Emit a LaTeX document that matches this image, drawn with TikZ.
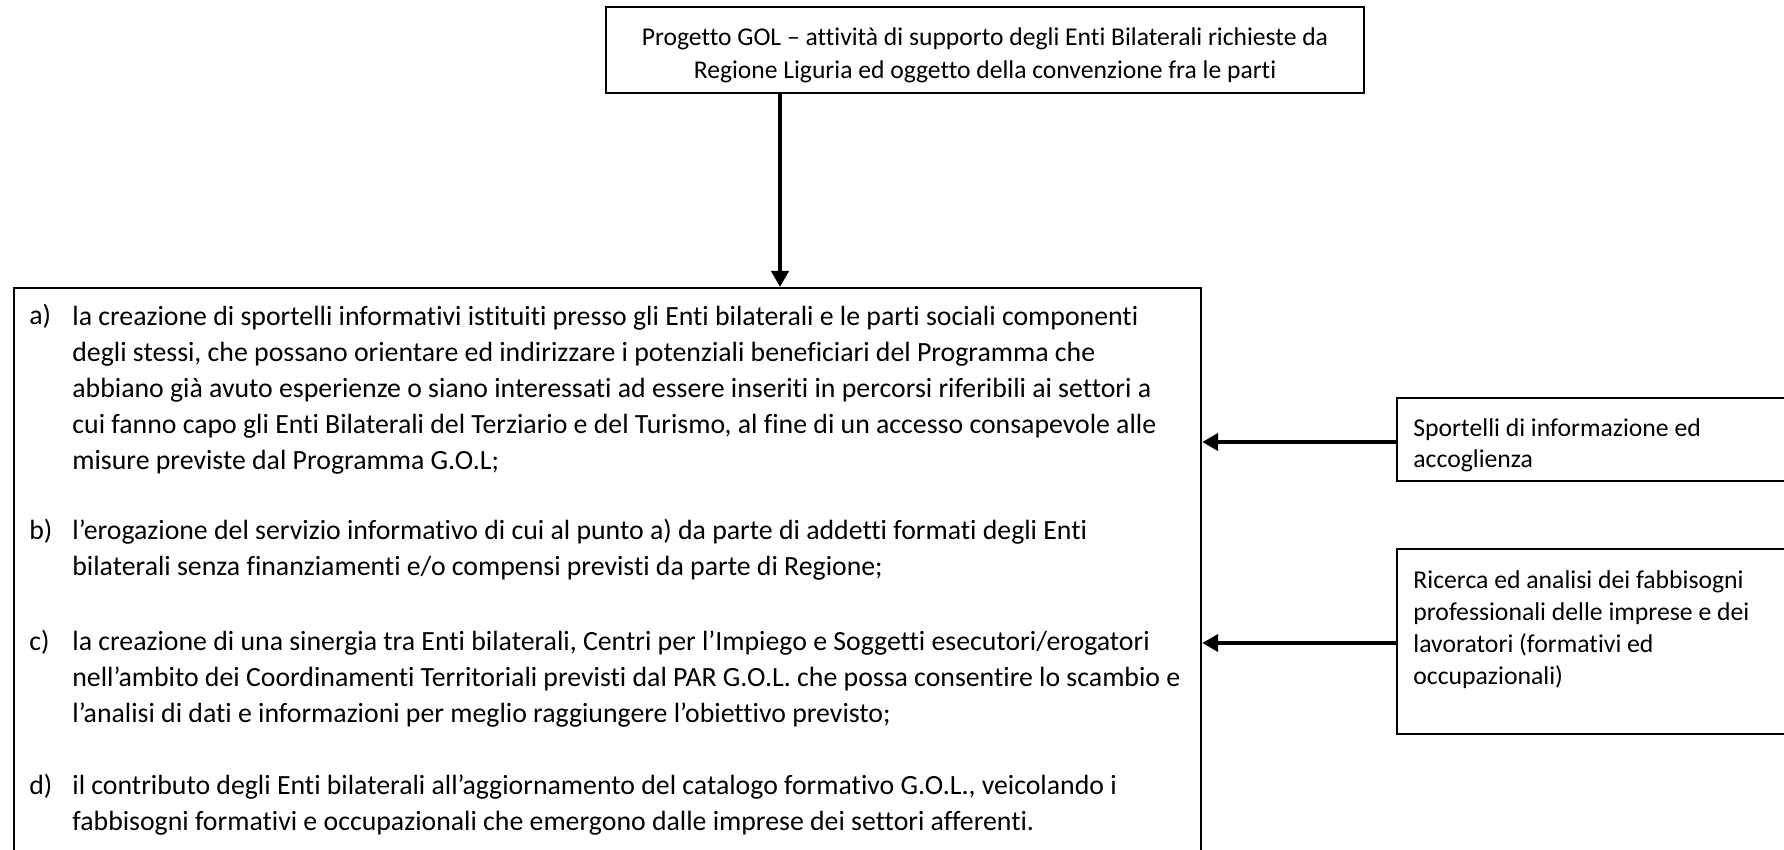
\documentclass[tikz,border=0pt]{standalone}
\usepackage{fontspec}
\setmainfont{Carlito}[Ligatures=NoCommon]
\usetikzlibrary{arrows.meta}
\begin{document}
\begin{tikzpicture}[x=0.5pt,y=-0.5pt,
  box/.style={draw, line width=1.1pt, inner sep=0pt},
  arr/.style={line width=2.2pt, -{Triangle[length=8pt,width=8.5pt]}},
  maintext/.style={inner sep=0pt, align=left, font=\fontsize{13.9}{18}\selectfont},
  toptext/.style={inner sep=0pt, align=center, font=\fontsize{12.8}{16.5}\selectfont},
  sidetext/.style={inner sep=0pt, align=left, font=\fontsize{12.85}{15.5}\selectfont},
  sidetextb/.style={inner sep=0pt, align=left, font=\fontsize{12.85}{16}\selectfont}]
\useasboundingbox (0,0) rectangle (1784,850);
% top box
\node[box, minimum width=379pt, minimum height=43pt] (top) at (985,50) {};
\node[toptext, anchor=base] (toptxt) at (985,79)
  {Progetto GOL – attività di supporto degli Enti Bilaterali richieste da\\
   Regione Liguria ed oggetto della convenzione fra le parti};
% main box
\node[box, anchor=north west, minimum width=593.5pt, minimum height=300pt] (main) at (13,287) {};
% items
\node[maintext, anchor=base west] (la) at (29,325) {a)};
\node[maintext, anchor=base west] (ta) at (72,469)
  {la creazione di sportelli informativi istituiti presso gli Enti bilaterali e le parti sociali componenti\\
   degli stessi, che possano orientare ed indirizzare i potenziali beneficiari del Programma che\\
   abbiano già avuto esperienze o siano interessati ad essere inseriti in percorsi riferibili ai settori a\\
   cui fanno capo gli Enti Bilaterali del Terziario e del Turismo, al fine di un accesso consapevole alle\\
   misure previste dal Programma G.O.L;};
\node[maintext, anchor=base west] (lb) at (29,539) {b)};
\node[maintext, anchor=base west] (tb) at (72,575)
  {l’erogazione del servizio informativo di cui al punto a) da parte di addetti formati degli Enti\\
   bilaterali senza finanziamenti e/o compensi previsti da parte di Regione;};
\node[maintext, anchor=base west] (lc) at (29,650) {c)};
\node[maintext, anchor=base west] (tc) at (72,722)
  {la creazione di una sinergia tra Enti bilaterali, Centri per l’Impiego e Soggetti esecutori/erogatori\\
   nell’ambito dei Coordinamenti Territoriali previsti dal PAR G.O.L. che possa consentire lo scambio e\\
   l’analisi di dati e informazioni per meglio raggiungere l’obiettivo previsto;};
\node[maintext, anchor=base west] (ld) at (29,794) {d)};
\node[maintext, anchor=base west] (td) at (72,830)
  {il contributo degli Enti bilaterali all’aggiornamento del catalogo formativo G.O.L., veicolando i\\
   fabbisogni formativi e occupazionali che emergono dalle imprese dei settori afferenti.};
% right boxes
\node[box, anchor=north west, minimum width=202pt, minimum height=41.5pt] (r1) at (1396,397) {};
\node[sidetext, anchor=base west] (t1) at (1413,467)
  {Sportelli di informazione ed\\accoglienza};
\node[box, anchor=north west, minimum width=202pt, minimum height=92.5pt] (r2) at (1396,548) {};
\node[sidetextb, anchor=base west] (t2) at (1413,684)
  {Ricerca ed analisi dei fabbisogni\\professionali delle imprese e dei\\lavoratori (formativi ed\\occupazionali)};
% connectors
\coordinate (ax) at (780,0);
\coordinate (ay1) at (0,442);
\coordinate (ay2) at (0,643);
\draw[arr] (ax |- top.south) -- (ax |- main.north);
\draw[arr] (r1.west |- ay1) -- (main.east |- ay1);
\draw[arr] (r2.west |- ay2) -- (main.east |- ay2);
\end{tikzpicture}
\end{document}
